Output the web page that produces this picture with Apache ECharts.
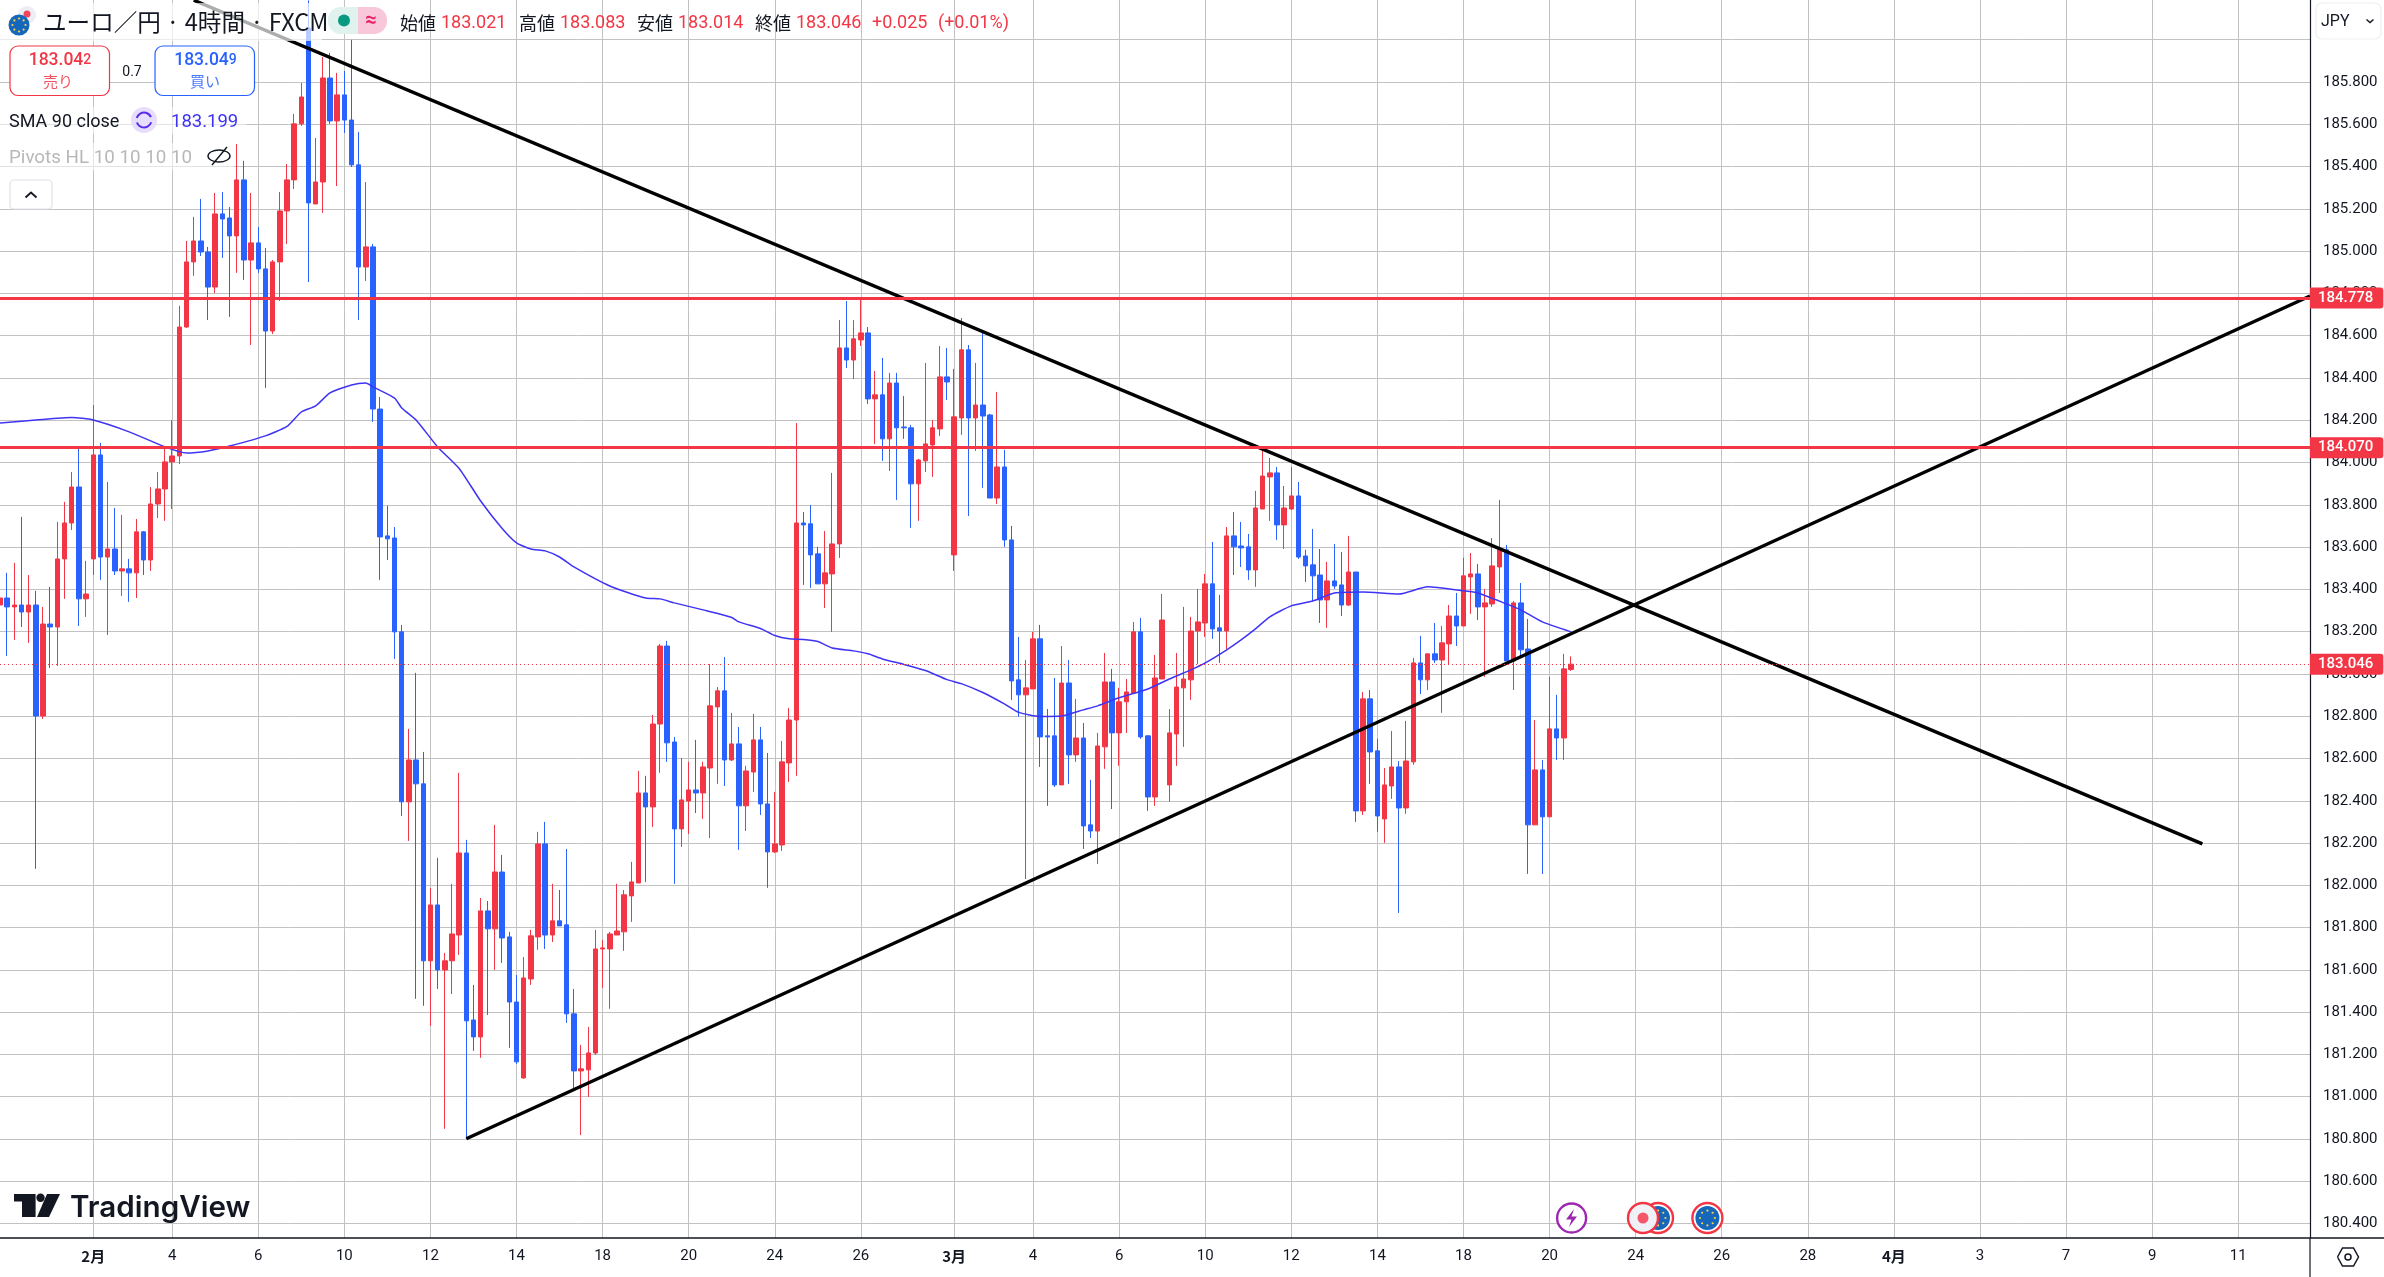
<!DOCTYPE html>
<html>
<head>
<meta charset="utf-8">
<title>EUR/JPY 4H</title>
<style>
html,body{margin:0;padding:0;background:#fff;}
#main{width:2384px;height:1277px;}
</style>
<script src="https://cdn.jsdelivr.net/npm/echarts@6/dist/echarts.min.js"></script>
</head>
<body>
<div id="main"></div>
<script>
// x axis: one slot per 4h bar, the last ones are empty future slots
var slotCount = 323;
var tickIndex = [13,24,36,48,60,72,84,96,108,120,133,144,156,168,180,192,204,216,228,240,252,264,276,288,300,312];
var tickLabels = ['2月','4','6','10','12','14','18','20','24','26','3月','4','6','10','12','14','18','20','24','26','28','4月','3','7','9','11'];

var priceMin = 180.3317, priceMax = 186.1879;
var gridPrices = [180.4,180.6,180.8,181,181.2,181.4,181.6,181.8,182,182.2,182.4,182.6,182.8,183,183.2,183.4,183.6,183.8,184,184.2,184.4,184.6,184.8,185,185.2,185.4,185.6,185.8,186];
var labelPrices = [180.4,180.6,180.8,181,181.2,181.4,181.6,181.8,182,182.2,182.4,182.6,182.8,183,183.2,183.4,183.6,183.8,184,184.2,184.4,184.6,184.8,185,185.2,185.4,185.6,185.8];

// open, close, low, high
var candles = [
[183.326,183.359,183.132,183.530],[183.359,183.317,183.085,183.478],[183.317,183.326,183.161,183.525],[183.326,183.293,183.222,183.743],
[183.293,183.326,183.147,183.468],[183.326,182.801,182.078,183.393],[182.801,183.236,182.787,183.317],[183.236,183.222,183.028,183.412],
[183.222,183.544,183.038,183.719],[183.544,183.714,183.355,183.814],[183.714,183.884,183.681,183.955],[183.884,183.355,183.227,184.069],
[183.355,183.378,183.270,183.535],[183.544,184.036,183.468,184.272],[184.036,183.553,183.445,184.093],[183.553,183.591,183.184,183.908],
[183.591,183.487,183.468,183.785],[183.487,183.497,183.369,183.752],[183.497,183.478,183.341,183.544],[183.478,183.672,183.359,183.733],
[183.672,183.539,183.468,183.676],[183.539,183.804,183.487,183.884],[183.804,183.875,183.738,183.955],[183.875,184.003,183.724,184.078],
[184.003,184.031,183.780,184.201],[184.031,184.641,183.993,184.741],[184.641,184.949,184.637,185.048],[184.949,185.048,184.883,185.162],
[185.048,184.996,184.977,185.247],[184.996,184.830,184.674,185.020],[184.830,185.176,184.802,185.275],[185.176,185.152,184.968,185.280],
[185.157,185.072,184.689,185.209],[185.072,185.337,184.897,185.507],[185.337,184.958,184.864,185.427],[184.958,185.039,184.556,185.275],
[185.039,184.916,184.897,185.114],[184.916,184.622,184.353,185.015],[184.622,184.949,184.608,184.958],[184.949,185.190,184.764,185.280],
[185.190,185.337,185.034,185.412],[185.337,185.602,185.294,185.649],[185.602,185.729,185.592,185.795],[186.056,185.228,184.854,186.186],
[185.223,185.327,185.223,185.535],[185.327,185.819,185.181,185.918],[185.819,185.616,185.602,185.937],[185.616,185.739,185.308,185.843],
[185.739,185.620,185.559,185.852],[185.620,185.408,185.398,185.999],[185.408,184.925,184.674,185.564],[184.925,185.020,184.859,185.327],
[185.020,184.253,184.192,185.034],[184.253,183.648,183.445,184.310],[183.653,183.639,183.539,183.795],[183.643,183.199,183.071,183.695],
[183.199,182.395,182.328,183.232],[182.395,182.593,182.210,182.740],[182.593,182.480,181.463,183.005],[182.480,181.643,181.430,182.631],
[181.643,181.907,181.335,181.988],[181.907,181.600,181.510,182.130],[181.600,181.643,180.848,181.680],[181.643,181.770,181.486,182.007],
[181.765,182.153,181.671,182.532],[182.153,181.359,180.801,182.215],[181.363,181.283,181.217,181.529],[181.283,181.879,181.184,181.940],
[181.879,181.794,181.387,181.926],[181.794,182.063,181.600,182.286],[182.063,181.751,181.633,182.144],[181.756,181.448,181.231,181.780],
[181.448,181.165,181.155,181.576],[181.089,181.562,181.085,181.661],[181.557,181.761,181.529,181.789],[181.756,182.196,181.695,182.253],
[182.196,181.765,181.699,182.300],[181.765,181.832,181.732,182.007],[181.832,181.808,181.808,181.978],[181.813,181.392,181.349,182.172],
[181.392,181.122,181.028,181.510],[181.122,181.132,180.819,181.245],[181.127,181.207,180.999,181.330],[181.207,181.699,181.198,181.789],
[181.699,181.704,181.515,181.742],[181.699,181.770,181.416,181.780],[181.765,181.784,181.765,182.007],[181.780,181.955,181.690,181.978],
[181.950,182.016,181.827,182.111],[182.011,182.437,182.011,182.541],[182.437,182.371,182.016,182.518],[182.371,182.763,182.276,182.806],
[182.763,183.132,182.532,183.142],[183.132,182.674,182.584,183.156],[182.678,182.267,182.007,182.702],[182.267,182.404,182.182,182.603],
[182.399,182.451,182.243,182.584],[182.451,182.437,182.342,182.688],[182.437,182.560,182.314,182.584],[182.555,182.849,182.224,183.047],
[182.844,182.920,182.480,182.938],[182.920,182.593,182.470,183.080],[182.593,182.669,182.588,182.816],[182.669,182.376,182.168,182.749],
[182.376,182.541,182.257,182.565],[182.536,182.688,182.442,182.811],[182.688,182.385,182.333,182.749],[182.385,182.158,181.988,182.626],
[182.158,182.196,182.153,182.442],[182.191,182.584,182.163,182.683],[182.579,182.782,182.489,182.839],[182.782,183.714,182.518,184.187],
[183.714,183.705,183.421,183.766],[183.710,183.563,183.407,183.799],[183.568,183.426,183.426,183.601],[183.426,183.478,183.312,183.676],
[183.473,183.615,183.199,183.951],[183.615,184.542,183.549,184.674],[184.542,184.485,184.447,184.764],[184.485,184.585,184.395,184.674],
[184.580,184.613,184.551,184.778],[184.613,184.301,184.277,184.641],[184.301,184.320,184.088,184.433],[184.320,184.112,184.008,184.495],
[184.112,184.376,183.960,184.424],[184.376,184.164,183.823,184.424],[184.168,184.164,184.112,184.315],[184.164,183.899,183.691,184.178],
[183.899,184.012,183.724,184.017],[184.008,184.088,183.955,184.471],[184.083,184.164,183.932,184.201],[184.159,184.405,184.126,184.551],
[184.405,184.381,184.296,184.542],[183.563,184.216,183.487,184.443],[184.211,184.533,184.131,184.684],[184.533,184.211,183.747,184.556],
[184.211,184.272,184.055,184.471],[184.272,184.220,183.880,184.613],[184.225,183.832,183.832,184.230],[183.832,183.979,183.804,184.334],
[183.979,183.634,183.601,184.060],[183.634,182.967,182.877,183.700],[182.972,182.901,182.797,183.175],[182.901,182.934,182.030,183.066],
[182.929,183.166,182.929,183.199],[183.166,182.702,182.560,183.232],[182.707,182.702,182.376,182.834],[182.707,182.475,182.465,182.981],
[182.475,182.957,182.475,183.132],[182.957,182.617,182.480,183.066],[182.617,182.697,182.584,182.882],[182.697,182.281,182.172,182.768],
[182.286,182.257,182.224,182.499],[182.257,182.659,182.101,182.721],[182.655,182.962,182.551,183.099],[182.962,182.721,182.361,183.024],
[182.721,182.868,182.565,182.934],[182.868,182.915,182.721,182.976],[182.910,183.199,182.910,183.246],[183.199,182.702,182.693,183.265],
[182.707,182.418,182.352,182.710],[182.418,182.981,182.376,183.090],[182.976,183.255,182.976,183.378],[182.475,182.721,182.395,182.834],
[182.716,182.938,182.565,183.099],[182.934,182.976,182.655,183.317],[182.972,183.203,182.877,183.270],[183.203,183.246,183.047,183.402],
[183.241,183.426,183.175,183.473],[183.426,183.213,183.166,183.624],[183.218,183.203,183.052,183.374],[183.203,183.653,183.118,183.695],
[183.653,183.601,183.468,183.766],[183.605,183.596,183.506,183.719],[183.601,183.492,183.445,183.662],[183.492,183.785,183.412,183.866],
[183.780,183.936,183.780,184.060],[183.932,183.951,183.724,184.022],[183.951,183.705,183.634,183.979],[183.705,183.785,183.591,183.889],
[183.780,183.842,183.776,183.979],[183.842,183.553,183.544,183.908],[183.558,183.511,183.435,183.587],[183.516,183.464,183.345,183.686],
[183.468,183.350,183.241,183.591],[183.350,183.440,183.218,183.530],[183.440,183.416,183.402,183.615],[183.421,183.326,183.274,183.577],
[183.326,183.482,183.322,183.653],[183.482,182.352,182.300,183.482],[182.352,182.882,182.333,182.915],[182.882,182.631,182.480,182.924],
[182.636,182.328,182.253,182.693],[182.314,182.475,182.201,182.555],[182.470,182.560,182.409,182.730],[182.560,182.366,181.869,182.588],
[182.366,182.588,182.338,182.778],[182.584,183.052,182.570,183.076],[183.052,182.972,182.905,183.180],[182.972,183.095,182.924,183.095],
[183.095,183.066,183.052,183.241],[183.066,183.147,182.816,183.227],[183.142,183.274,183.042,183.326],[183.274,183.227,183.132,183.383],
[183.227,183.464,183.227,183.549],[183.459,183.473,183.284,183.572],[183.473,183.317,183.255,183.520],[183.317,183.336,182.986,183.402],
[183.331,183.511,183.317,183.643],[183.506,183.587,183.383,183.823],[183.587,183.061,183.061,183.610],[183.061,183.336,182.924,183.345],
[183.336,183.114,183.080,183.430],[183.118,182.286,182.054,183.260],[182.286,182.546,182.286,182.782],[182.546,182.324,182.054,182.593],
[182.324,182.740,182.324,182.986],[182.740,182.697,182.593,182.901],[182.697,183.024,182.593,183.095],[183.021,183.046,183.014,183.083]
];

// SMA 90: bar index, value
var smaIndex = [0,5,10,13,18,23,26,29,32,37,40,42,44,46,49,51,52,55,56,58,61,64,67,70,72,74,76,78,80,85,90,92,94,98,102,103,106,108,110,112,114,116,119,121,123,126,129,132,134,137,140,142,145,148,151,153,156,160,163,166,168,171,173,175,177,180,183,186,190,195,199,204,206,210,212,215,219];
var smaValue = [184.187,184.201,184.213,184.201,184.145,184.074,184.045,184.055,184.078,184.126,184.171,184.239,184.268,184.329,184.367,184.376,184.358,184.305,184.258,184.201,184.074,183.972,183.818,183.688,183.620,183.591,183.582,183.553,183.506,183.416,183.359,183.355,183.336,183.303,183.267,183.246,183.215,183.182,183.166,183.163,183.153,183.123,183.109,183.095,183.071,183.045,183.016,182.973,182.954,182.912,182.858,182.818,182.799,182.801,182.830,182.849,182.887,182.929,182.976,183.019,183.052,183.114,183.161,183.213,183.270,183.322,183.345,183.383,183.388,183.378,183.412,183.393,183.383,183.331,183.303,183.246,183.199];

var downTrend = [[27,186.187],[307,182.196]];
var upTrend = [[65,180.801],[322,184.788]];
var resistance = [184.778,184.070];
var lastPrice = 183.046;

var red = '#F23645', blue = '#2962FF', ink = '#131722', smaColor = '#3f33f5';
var gridColor = '#c2c2c2';
var numFont = 'Roboto, "Noto Sans CJK JP", sans-serif';
var jpFont = '"Noto Sans CJK JP", Roboto, sans-serif';

var categories = [];
for (var i = 0; i < slotCount; i++) { categories.push(String(i)); }

function text(x, y, str, size, color, extra) {
	var st = {x: x, y: y, text: str, fill: color, fontSize: size, fontFamily: numFont, verticalAlign: 'middle', align: 'left'};
	for (var k in (extra || {})) { st[k] = extra[k]; }
	return {type: 'text', z: 200, style: st, silent: true};
}
function rect(x, y, w, h, fill, stroke, r, z) {
	return {type: 'rect', z: z || 150, silent: true, shape: {x: x, y: y, width: w, height: h, r: r || 0},
		style: {fill: fill, stroke: stroke || null, lineWidth: stroke ? 1.2 : 0}};
}
function circle(x, y, r, fill, stroke, lw, z) {
	return {type: 'circle', z: z || 200, silent: true, shape: {cx: x, cy: y, r: r},
		style: {fill: fill, stroke: stroke || null, lineWidth: lw || 0}};
}
function stroke(points, color, lw, z, fill) {
	return {type: fill ? 'polygon' : 'polyline', z: z || 200, silent: true, shape: {points: points},
		style: {fill: fill || null, stroke: fill ? null : color, lineWidth: lw || 1}};
}
function euFlag(list, x, y, r, z) {
	list.push(circle(x, y, r, '#1666bb', null, 0, z));
	for (var a = 0; a < 8; a++) {
		var t = a * Math.PI / 4;
		list.push(circle(x + Math.cos(t) * r * 0.62, y + Math.sin(t) * r * 0.62, 1.1, '#f5d547', null, 0, z));
	}
}

var el = [];
// faded panels behind the legend rows
el.push(rect(0, 3, 322, 38, 'rgba(255,255,255,0.68)'));
el.push(rect(0, 107, 246, 27, 'rgba(255,255,255,0.55)'));
el.push(rect(0, 143, 234, 27, 'rgba(255,255,255,0.55)'));
// symbol flags
el.push(circle(27, 15, 9, '#eceef5'));
el.push(circle(27, 14, 3.5, '#f0455a'));
euFlag(el, 19, 25, 10.5, 201);
el.push(text(43, 22, 'ユーロ／円 · 4時間 · FXCM', 23.6, ink, {fontFamily: jpFont}));
// market status pill
el.push({type: 'rect', z: 190, silent: true, shape: {x: 328, y: 7, width: 40, height: 27, r: [13, 0, 0, 13]}, style: {fill: '#dff2ee'}});
el.push({type: 'rect', z: 190, silent: true, shape: {x: 358, y: 7, width: 29, height: 27, r: [0, 13, 13, 0]}, style: {fill: '#f8c8da'}});
el.push(circle(344, 20.5, 6, '#089981'));
el.push(text(371, 21, '≈', 20, '#e91e63', {align: 'center', fontWeight: 'bold'}));
// OHLC
var ohlc = [[400,'始値','183.021'],[519,'高値','183.083'],[637,'安値','183.014'],[755,'終値','183.046']];
ohlc.forEach(function(r) {
	el.push(text(r[0], 23.5, r[1], 18, ink, {fontFamily: jpFont}));
	el.push(text(r[0] + 41, 23.5, r[2], 18, red));
});
el.push(text(872, 23.5, '+0.025', 18, red));
el.push(text(938, 23.5, '(+0.01%)', 18, red));
// sell / buy boxes
el.push(rect(10, 46, 99.5, 49.5, '#fff', red, 8, 190));
el.push(rect(155, 46, 99.5, 49.5, '#fff', blue, 8, 190));
el.push({type: 'text', z: 200, silent: true, style: {x: 60, y: 60.5, align: 'center', verticalAlign: 'middle', text: '{a|183.04}{b|2}',
	rich: {a: {fontSize: 17.5, fontWeight: 500, fill: red, fontFamily: numFont}, b: {fontSize: 14, fontWeight: 500, fill: red, fontFamily: numFont}}}});
el.push({type: 'text', z: 200, silent: true, style: {x: 205.5, y: 60.5, align: 'center', verticalAlign: 'middle', text: '{a|183.04}{b|9}',
	rich: {a: {fontSize: 17.5, fontWeight: 500, fill: blue, fontFamily: numFont}, b: {fontSize: 14, fontWeight: 500, fill: blue, fontFamily: numFont}}}});
el.push(text(58, 81, '売り', 15, red, {align: 'center', fontFamily: jpFont, opacity: 0.85}));
el.push(text(205, 81, '買い', 15, blue, {align: 'center', fontFamily: jpFont, opacity: 0.85}));
el.push(text(132, 72, '0.7', 14, ink, {align: 'center'}));
// SMA row
el.push(text(9, 122, 'SMA 90 close', 18, ink));
el.push(circle(144, 120, 13, '#e6defc'));
el.push({type: 'arc', z: 201, silent: true, shape: {cx: 144, cy: 120, r: 7.5, startAngle: 3.4, endAngle: 5.9}, style: {fill: null, stroke: '#5a2be8', lineWidth: 2}});
el.push({type: 'arc', z: 201, silent: true, shape: {cx: 144, cy: 120, r: 7.5, startAngle: 0.3, endAngle: 2.8}, style: {fill: null, stroke: '#5a2be8', lineWidth: 2}});
el.push(text(171, 122, '183.199', 18.5, smaColor));
// Pivots row
el.push(text(9, 158, 'Pivots HL 10 10 10 10', 18.8, '#b8b8b8'));
el.push({type: 'ellipse', z: 201, silent: true, shape: {cx: 219, cy: 156, rx: 11, ry: 6}, style: {fill: null, stroke: ink, lineWidth: 1.4}});
el.push(stroke([[212, 165], [227, 147]], ink, 1.4, 201));
// collapse button
el.push(rect(10, 180, 42, 29, '#fff', '#dfe2e8', 4, 190));
el.push(stroke([[25.5, 197.5], [31, 192.5], [36.5, 197.5]], ink, 1.8));
// TradingView logo
el.push(stroke([[14, 1194], [35.6, 1194], [35.6, 1217], [22, 1217], [22, 1201.5], [14, 1201.5]], null, 1, 200, '#131722'));
el.push(circle(40.5, 1197.8, 4.2, '#131722'));
el.push(stroke([[47, 1194], [60, 1194], [49, 1217], [37, 1217]], null, 1, 200, '#131722'));
el.push(text(70, 1208, 'TradingView', 29.6, '#131722', {fontFamily: 'Inter, sans-serif', fontWeight: 600}));
// event markers on the time scale
el.push(circle(1571.6, 1218, 14.5, '#fff', '#9c27b0', 2.4));
el.push(stroke([[1574, 1209], [1566, 1219.5], [1571.5, 1219.5], [1569, 1227], [1577, 1216.5], [1571.5, 1216.5]], null, 1, 201, '#9c27b0'));
el.push(circle(1658, 1218, 15, '#fff', red, 2.4, 200));
euFlag(el, 1658, 1218, 12, 201);
el.push(circle(1643, 1218, 15, '#eff1f7', red, 2.4, 203));
el.push(circle(1643, 1218, 5.5, '#f4566a', null, 0, 204));
el.push(circle(1707.4, 1218, 15, '#fff', red, 2.4, 200));
euFlag(el, 1707.4, 1218, 12, 201);
// scale corner pieces
el.push(stroke([[2310, 1238], [2384, 1238]], '#131722', 1.5));
el.push(stroke([[2310, 1238], [2310, 1277]], '#131722', 1.2));
el.push(rect(2316, 3, 65, 36, '#fff', '#eeeff2', 6, 190));
el.push(text(2321, 21.5, 'JPY', 16, ink));
el.push(stroke([[2366.5, 19.5], [2370, 22.5], [2373.5, 19.5]], ink, 1.5));
el.push(stroke([[2337.5, 1257], [2342.5, 1248], [2353.5, 1248], [2358.5, 1257], [2353.5, 1266], [2342.5, 1266], [2337.5, 1257]], ink, 1.5));
el.push(circle(2348, 1257, 3, null, ink, 1.5));

function tagLabel() {
	return {show: true, position: 'end', distance: 0, color: '#fff', backgroundColor: red, fontFamily: numFont, fontSize: 15, fontWeight: 500,
		padding: [3, 10, 3, 8], borderRadius: [0, 3, 3, 0], formatter: function(p) { return p.value.toFixed(3); }};
}

var myChart = echarts.init(document.getElementById('main'), null, {renderer: 'canvas'});
var option = {
	animation: false,
	backgroundColor: '#fff',
	grid: {left: 0, right: 74, top: 0, bottom: 39, containLabel: false},
	xAxis: {
		type: 'category',
		data: categories,
		boundaryGap: false,
		axisLine: {lineStyle: {color: '#131722', width: 1.5}},
		axisTick: {show: false},
		splitLine: {show: true, interval: function(idx) { return tickIndex.indexOf(idx) >= 0; }, lineStyle: {color: gridColor, width: 1}},
		axisLabel: {
			interval: function(idx) { return tickIndex.indexOf(idx) >= 0; },
			hideOverlap: false,
			margin: 11,
			fontSize: 15,
			fontFamily: numFont,
			color: ink,
			formatter: function(v, idx) {
				var lab = tickLabels[tickIndex.indexOf(idx)];
				return lab.indexOf('月') >= 0 ? '{b|' + lab + '}' : lab;
			},
			rich: {b: {fontWeight: 'bold', fontSize: 15, fontFamily: jpFont, color: ink}}
		}
	},
	yAxis: {
		type: 'value',
		position: 'right',
		min: priceMin,
		max: priceMax,
		scale: true,
		axisLine: {show: true, lineStyle: {color: '#131722', width: 1.2}},
		axisTick: {show: false, customValues: gridPrices},
		splitLine: {show: true, lineStyle: {color: gridColor, width: 1}},
		axisLabel: {
			customValues: labelPrices,
			margin: 13,
			padding: [2, 0, 0, 0],
			fontSize: 15,
			fontFamily: numFont,
			color: ink,
			formatter: function(v) { return v.toFixed(3); }
		}
	},
	series: [
		{
			type: 'candlestick',
			data: candles,
			barWidth: 5,
			z: 3,
			itemStyle: {color: red, color0: blue, borderColor: red, borderColor0: blue, borderWidth: 1}
		},
		{
			type: 'line',
			data: smaIndex.map(function(ix, n) { return [ix, smaValue[n]]; }),
			showSymbol: false,
			smooth: 0.2,
			z: 4,
			lineStyle: {color: smaColor, width: 1.5}
		},
		{
			type: 'line',
			data: downTrend,
			showSymbol: false,
			z: 6,
			lineStyle: {color: '#000', width: 3.4}
		},
		{
			type: 'line',
			data: upTrend,
			showSymbol: false,
			z: 6,
			lineStyle: {color: '#000', width: 3.4},
			markLine: {
				silent: true,
				symbol: 'none',
				animation: false,
				precision: 3,
				z: 7,
				data: [
					{yAxis: resistance[0], lineStyle: {color: red, width: 3, type: 'solid'}, label: tagLabel()},
					{yAxis: resistance[1], lineStyle: {color: red, width: 3, type: 'solid'}, label: tagLabel()},
					{yAxis: lastPrice, lineStyle: {color: red, width: 1, type: [1, 3]}, label: tagLabel()}
				]
			}
		}
	],
	graphic: {elements: el}
};
myChart.setOption(option);
</script>
</body>
</html>
